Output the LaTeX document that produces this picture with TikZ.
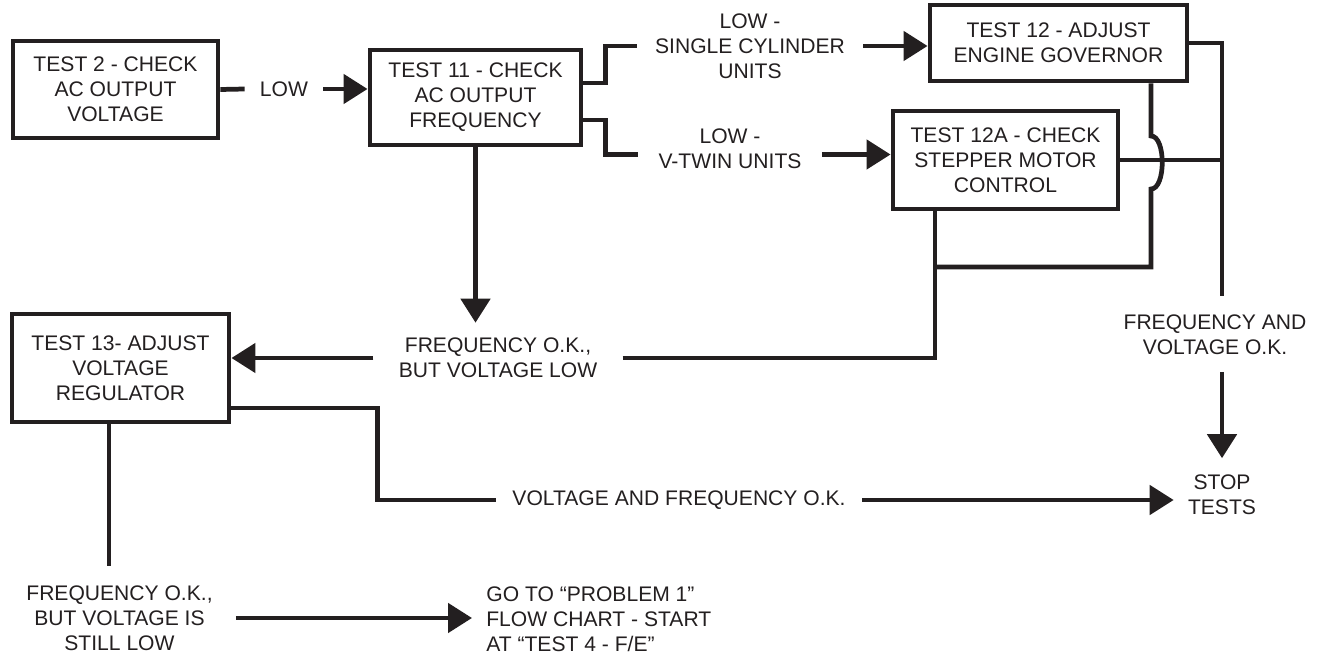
\documentclass[tikz,border=0pt]{standalone}
\usepackage{fontspec}
\setmainfont{Liberation Sans}
\usepackage{xcolor}
\usepackage{tikz}
\usetikzlibrary{positioning,arrows.meta}
\definecolor{ink}{RGB}{35,31,32}

\begin{document}
\begin{tikzpicture}[
    x=0.02cm, y=-0.02cm,
    every node/.style={font=\fontsize{12}{14.2}\selectfont, text=ink},
    box/.style={rectangle, draw=ink, line width=2.8pt, fill=white, align=center, inner sep=0pt},
    lbl/.style={align=center, inner sep=0pt},
    link/.style={draw=ink, line width=2.7pt},
    arrow/.style={link, -{Triangle[length=0.48cm, width=0.58cm]}}
]
\useasboundingbox (0,0) rectangle (1325,665);

% test boxes
\node[box, minimum width=4.1cm, minimum height=1.94cm] (t2) at (115.5,89.5) {TEST 2 - CHECK\\AC OUTPUT\\VOLTAGE};
\node[box, minimum width=4.22cm, minimum height=1.9cm] (t11) at (475.5,97.5) {TEST 11 - CHECK\\AC OUTPUT\\FREQUENCY};
\node[box, minimum width=5.14cm, minimum height=1.52cm] (t12) at (1058.5,43) {TEST 12 - ADJUST\\ENGINE GOVERNOR};
\node[box, minimum width=4.5cm, minimum height=1.96cm] (t12a) at (1005.5,160) {TEST 12A - CHECK\\STEPPER MOTOR\\CONTROL};
\node[box, minimum width=4.34cm, minimum height=2.16cm] (t13) at (120.5,368) {TEST 13- ADJUST\\VOLTAGE\\REGULATOR};

% labels on the connectors
\node[lbl, inner xsep=0.3cm] (low) at (284,89) {LOW};
\node[lbl, inner xsep=0.36cm] (single) at (750,46) {LOW -\\SINGLE CYLINDER\\UNITS};
\node[lbl, inner xsep=0.4cm] (vtwin) at (730,148.5) {LOW -\\V-TWIN UNITS};
\node[lbl, inner xsep=0.5cm, inner ysep=0.3cm] (fok) at (498,358) {FREQUENCY O.K.,\\BUT VOLTAGE LOW};
\node[lbl] (fvok) at (1215,335) {FREQUENCY AND\\VOLTAGE O.K.};
\node[lbl, inner xsep=0.28cm, inner ysep=0.32cm] (stop) at (1222,494.5) {STOP\\TESTS};
\node[lbl, inner xsep=0.33cm] (vfok) at (679,500) {VOLTAGE AND FREQUENCY O.K.};
\node[lbl, inner xsep=0.46cm, inner ysep=0.38cm] (fstill) at (119.5,618) {FREQUENCY O.K.,\\BUT VOLTAGE IS\\STILL LOW};
\node[lbl, align=left, inner xsep=0.28cm, anchor=west] (goto) at (472,619) {GO TO “PROBLEM 1”\\FLOW CHART - START\\AT “TEST 4 - F/E”};

\coordinate (hop1) at (1151,136);
\coordinate (hop2) at (1151,189);
\coordinate (merge) at (935,267);
\coordinate (fvtop) at (1222,296);
\coordinate (fvbot) at (1222,372);

% connectors
\draw[link] (t2.east) -- (low.west);
\draw[arrow] (low.east) -- (low.east -| t11.west);
\draw[link] ([yshift=0.29cm]t11.east) -- ++(22,0) |- (single.west);
\draw[arrow] (single.east) -- (single.east -| t12.west);
\draw[link] ([yshift=-0.45cm]t11.east) -- ++(22,0) |- ([yshift=-0.12cm]vtwin.west);
\draw[arrow] ([yshift=-0.12cm]vtwin.east) -- ([yshift=-0.12cm]vtwin.east -| t12a.west);
\draw[arrow] (t11.south) -- (t11.south |- fok.north);
\draw[arrow] (fok.west) -- (fok.west -| t13.east);
\draw[link] (fok.east) -| (merge |- t12a.south);
\draw[link] (hop1 |- t12.south) -- (hop1) .. controls ([xshift=0.3cm]hop1) and ([xshift=0.3cm]hop2) .. (hop2) |- (merge);
\draw[link] (t12.east) -| (fvtop);
\draw[link] (t12a.east) -- (t12a.east -| fvtop);
\draw[arrow] (fvbot) -- (stop.north);
\draw[link] ([yshift=-0.8cm]t13.east) -- ++(146,0) |- (vfok.west);
\draw[arrow] (vfok.east) -- (vfok.east -| stop.west);
\draw[link] ([xshift=-0.23cm]t13.south) -- ([xshift=-0.23cm]t13.south |- fstill.north);
\draw[arrow] (fstill.east) -- (fstill.east -| goto.west);

\end{tikzpicture}
\end{document}
